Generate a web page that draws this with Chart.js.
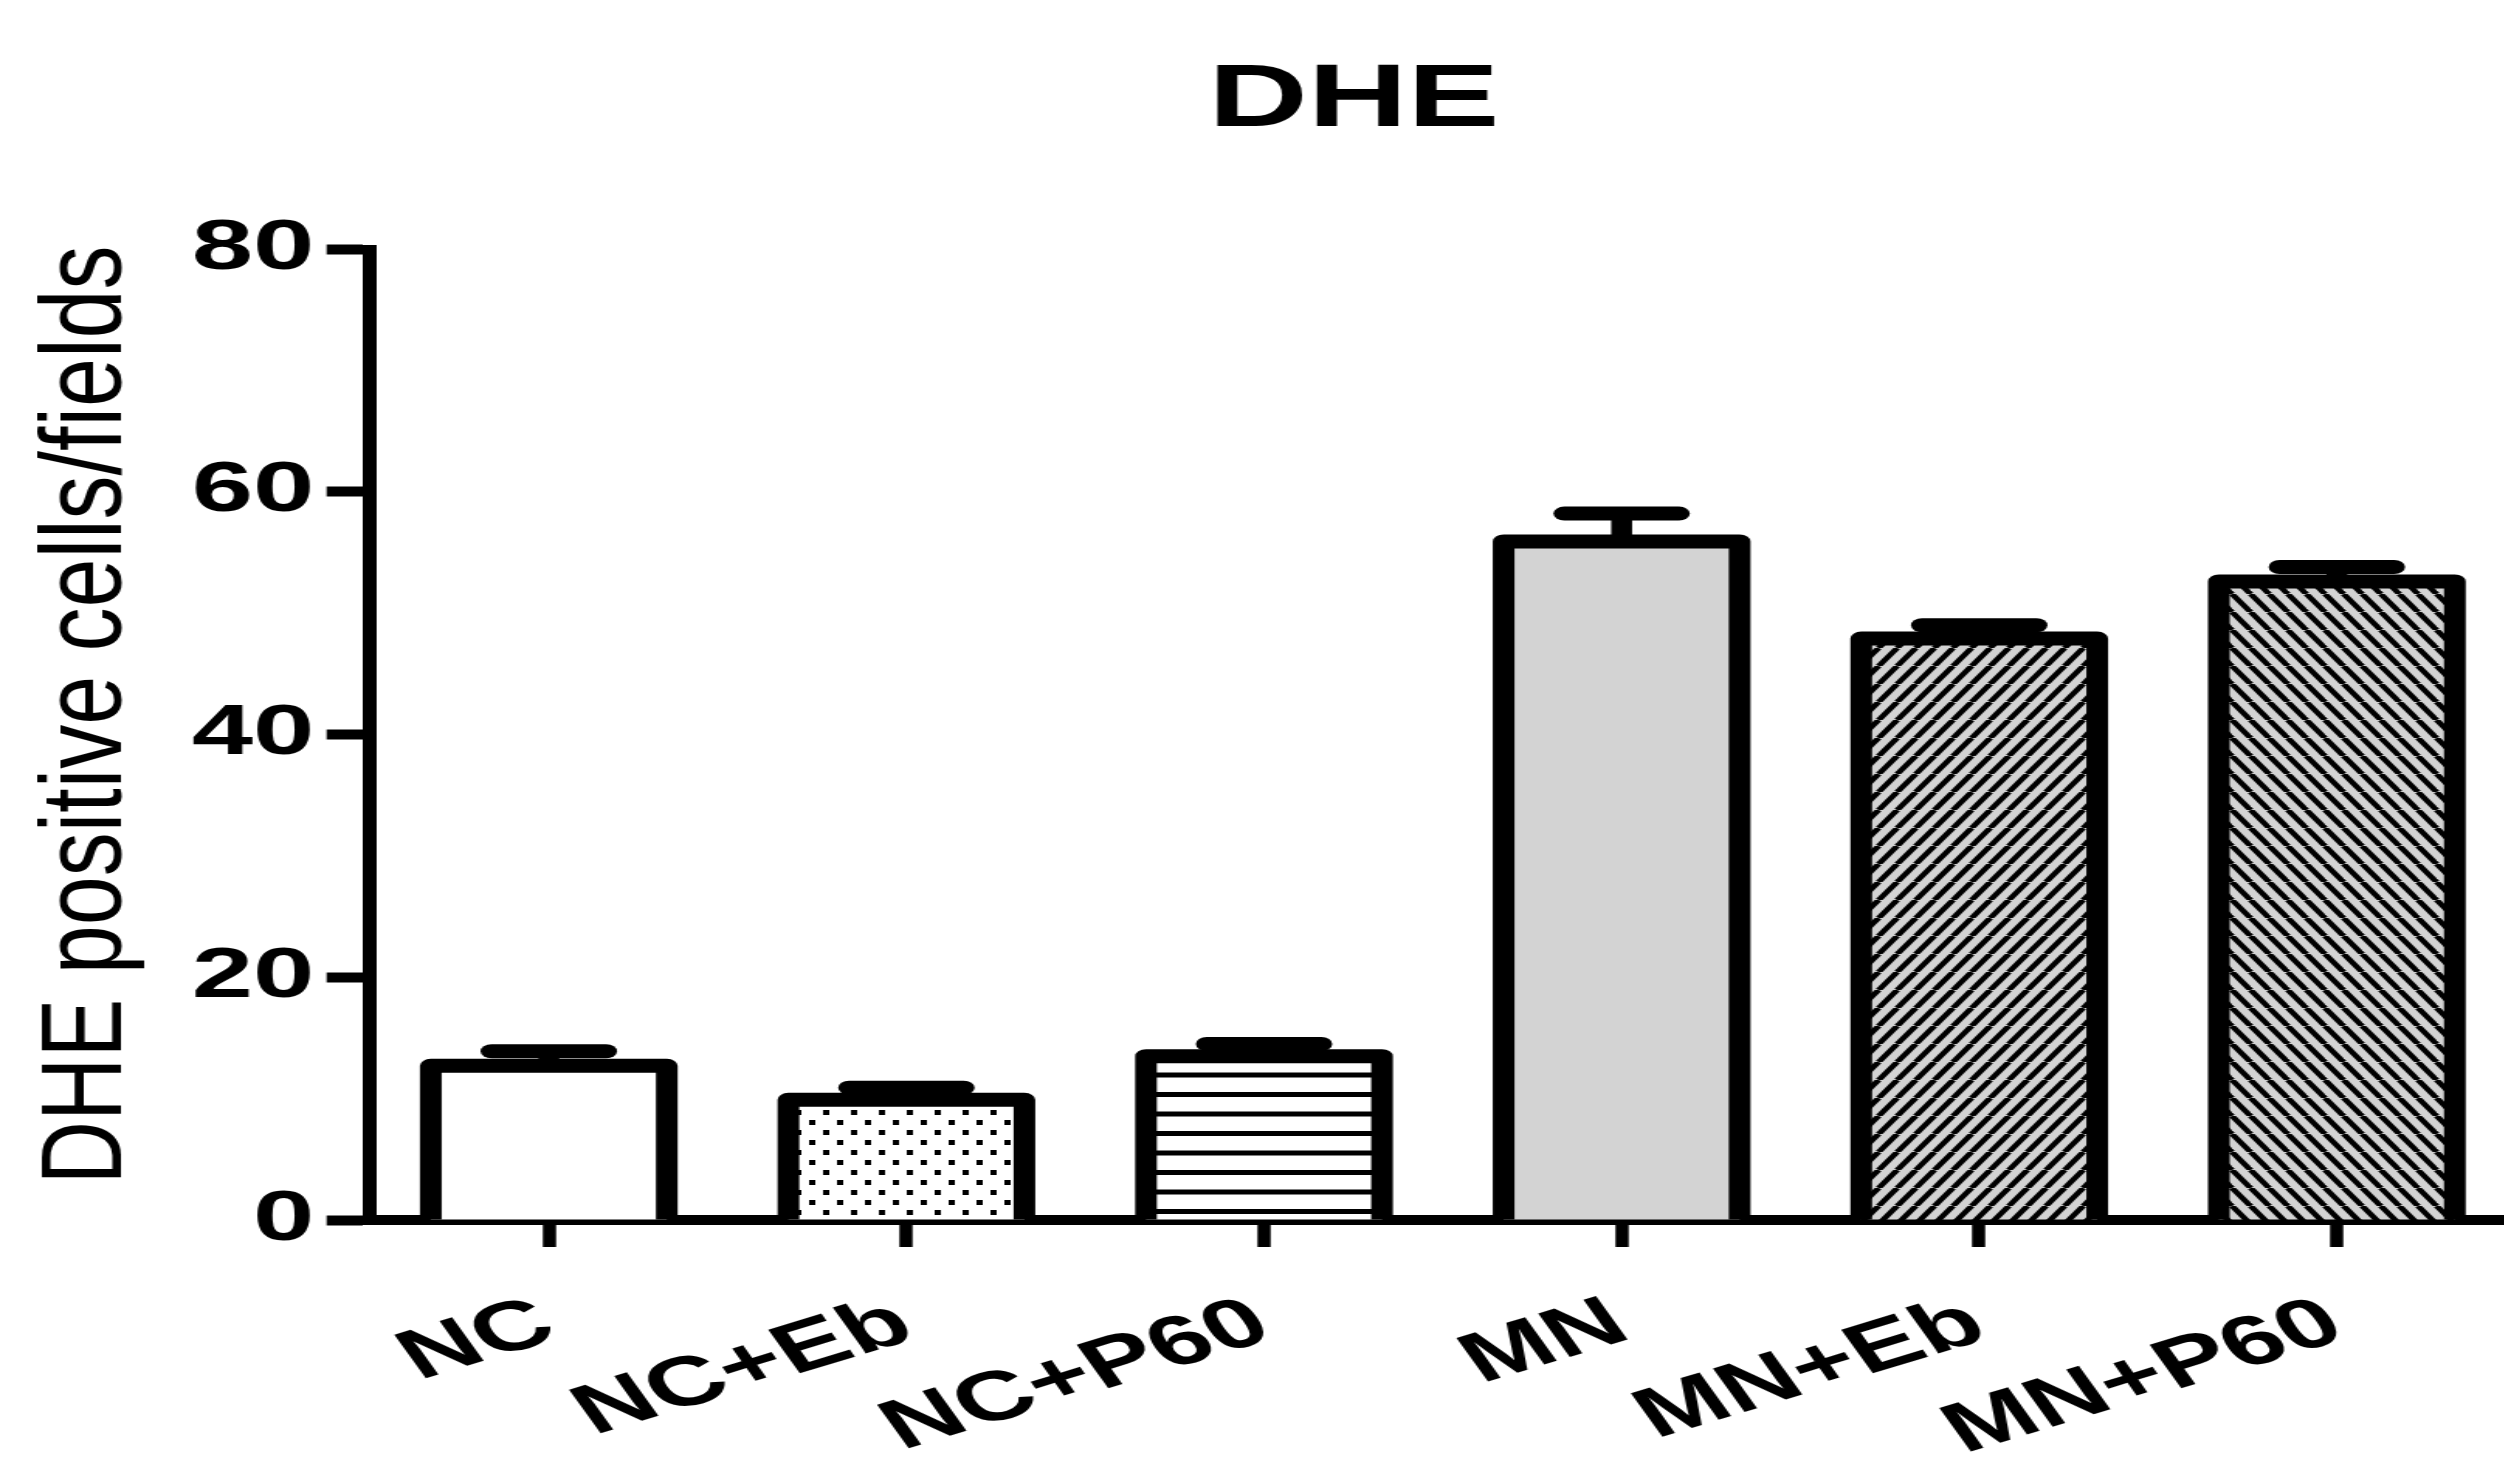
<!DOCTYPE html>
<html>
<head>
<meta charset="utf-8">
<script src="https://cdn.jsdelivr.net/npm/chart.js@4/dist/chart.umd.min.js"></script>
<style>
  html, body { margin: 0; padding: 0; background: #fff; overflow: hidden; }
  #chart { display: block; transform: scaleX(1.55); transform-origin: 0 0; }
</style>
</head>
<body>
<canvas id="chart" width="1624" height="1459"></canvas>
<script>
// Group names, mean values and SEM for the DHE staining
const categories = ['NC', 'NC+Eb', 'NC+P60', 'MN', 'MN+Eb', 'MN+P60'];
const meanValues = [12.7, 9.9, 13.5, 55.9, 47.9, 52.6];
const semValues = [1.2, 1.0, 1.0, 2.3, 1.1, 1.2];
const yTickValues = [0, 20, 40, 60, 80];
const chartTitle = 'DHE';
const yAxisTitle = 'DHE positive cells/fields';

const FONT = '"Liberation Sans", Arial, sans-serif';
const canvas = document.getElementById('chart');
const ctx0 = canvas.getContext('2d');

// Fill patterns for the bars
function makeTile(w, h, draw) {
  const t = document.createElement('canvas');
  t.width = w; t.height = h;
  const c = t.getContext('2d');
  draw(c, w, h);
  return ctx0.createPattern(t, 'repeat');
}
const dotFill = makeTile(18, 20, (c, w, h) => {
  c.fillStyle = '#fff'; c.fillRect(0, 0, w, h);
  c.fillStyle = '#000';
  c.fillRect(0, 0, 4, 5);
  c.fillRect(9, 10, 4, 5);
});
const lineFill = makeTile(4, 39, (c, w, h) => {
  c.fillStyle = '#fff'; c.fillRect(0, 0, w, h);
  c.fillStyle = '#000';
  c.fillRect(0, 0, w, 5);
  c.fillRect(0, 19.5, w, 5);
});
function hatch(forward) {
  return makeTile(12, 18, (c, w, h) => {
    c.fillStyle = '#d3d3d3'; c.fillRect(0, 0, w, h);
    c.strokeStyle = '#000'; c.lineWidth = 4.2;
    for (let k = -1; k <= 1; k++) {
      c.beginPath();
      if (forward) { c.moveTo(k * w, h); c.lineTo(k * w + w, 0); }
      else { c.moveTo(k * w, 0); c.lineTo(k * w + w, h); }
      c.stroke();
    }
  });
}
const barFills = ['#ffffff', dotFill, lineFill, '#d3d3d3', hatch(true), hatch(false)];

// Bar outlines (centred on the bar edges) and upper SEM bars
const barDecor = {
  id: 'barDecor',
  afterDatasetsDraw(chart) {
    const ctx = chart.ctx;
    const yScale = chart.scales.y;
    const meta = chart.getDatasetMeta(0);
    ctx.save();
    ctx.strokeStyle = '#000';
    ctx.fillStyle = '#000';
    meta.data.forEach((bar, i) => {
      const p = bar.getProps(['x', 'y', 'base', 'width'], true);
      const l = p.x - p.width / 2, r = p.x + p.width / 2;
      ctx.lineWidth = 14;
      ctx.lineJoin = 'round';
      ctx.lineCap = 'butt';
      ctx.beginPath();
      ctx.moveTo(l, p.base);
      ctx.lineTo(l, p.y);
      ctx.lineTo(r, p.y);
      ctx.lineTo(r, p.base);
      ctx.stroke();

      const capY = yScale.getPixelForValue(meanValues[i] + semValues[i]);
      ctx.fillRect(p.x - 6.75, capY, 13.5, p.y - capY);
      ctx.lineWidth = 14;
      ctx.lineCap = 'round';
      ctx.beginPath();
      ctx.moveTo(p.x - 37, capY);
      ctx.lineTo(p.x + 37, capY);
      ctx.stroke();
    });
    ctx.restore();
  }
};

// Chart title and rotated y-axis title
const textDecor = {
  id: 'textDecor',
  afterDraw(chart) {
    const ctx = chart.ctx;
    ctx.save();
    ctx.fillStyle = '#000';
    ctx.font = 'bold 89px ' + FONT;
    ctx.textAlign = 'center';
    ctx.textBaseline = 'alphabetic';
    ctx.fillText(chartTitle, 873.5, 126);
    ctx.restore();

    ctx.save();
    ctx.fillStyle = '#000';
    ctx.font = '88px ' + FONT;
    ctx.textAlign = 'center';
    ctx.textBaseline = 'alphabetic';
    ctx.translate(77.6, 715);
    ctx.rotate(-Math.PI / 2);
    ctx.scale(1, 0.84);
    ctx.fillText(yAxisTitle, 0, 0);
    ctx.restore();
  }
};

new Chart(canvas, {
  type: 'bar',
  data: {
    labels: categories,
    datasets: [{
      data: meanValues,
      backgroundColor: barFills,
      borderWidth: 0,
      barPercentage: 0.66,
      categoryPercentage: 1
    }]
  },
  options: {
    responsive: false,
    animation: false,
    devicePixelRatio: 1,
    layout: { padding: { top: 249, right: 1, bottom: 0, left: 0 } },
    plugins: {
      legend: { display: false },
      title: { display: false },
      tooltip: { enabled: false }
    },
    scales: {
      x: {
        offset: true,
        grid: {
          offset: false,
          drawOnChartArea: false,
          drawTicks: true,
          tickLength: 27,
          tickWidth: 8.5,
          tickColor: '#000'
        },
        border: { display: true, color: '#000', width: 10 },
        ticks: {
          color: '#000',
          font: { family: FONT, size: 70, weight: 'bold' },
          minRotation: 25,
          maxRotation: 25,
          autoSkip: false,
          padding: 35
        },
        afterFit(scale) { scale.height = 239; }
      },
      y: {
        min: 0,
        max: 80,
        afterBuildTicks(scale) { scale.ticks = yTickValues.map(v => ({ value: v })); },
        grid: {
          drawOnChartArea: false,
          drawTicks: true,
          tickLength: 28,
          tickWidth: 10,
          tickColor: '#000'
        },
        border: { display: true, color: '#000', width: 9 },
        ticks: {
          color: '#000',
          font: { family: FONT, size: 71, weight: 'bold' },
          padding: 8
        },
        afterFit(scale) { scale.width = 238.7; }
      }
    }
  },
  plugins: [barDecor, textDecor]
});
</script>
</body>
</html>
